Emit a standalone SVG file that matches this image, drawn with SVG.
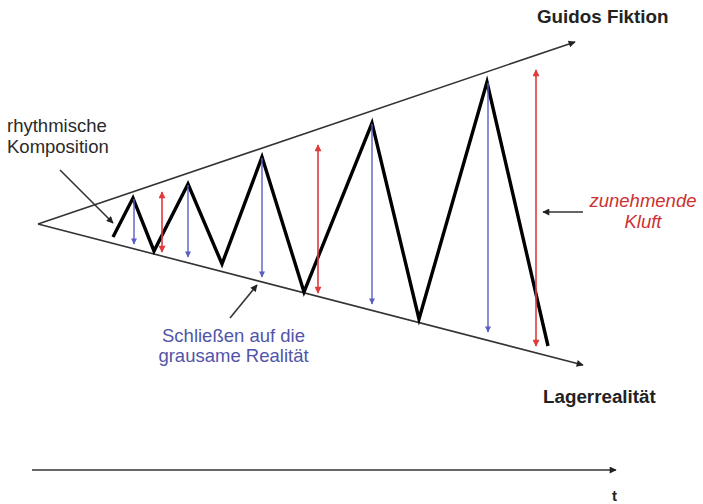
<svg xmlns="http://www.w3.org/2000/svg" width="703" height="504" viewBox="0 0 703 504">
<defs>
<style>
.line{stroke:#333;stroke-width:1.6;fill:none}
.zig{stroke:#000;stroke-width:3.4;fill:none;stroke-linejoin:miter}
.blue{stroke:#5a5fc0;stroke-width:1.4;fill:none}
.red{stroke:#e03a3a;stroke-width:1.6;fill:none}
.lbl{font-family:"Liberation Sans",Arial,sans-serif;font-size:18.5px;fill:#2a2a2a}
.bold{font-family:"Liberation Sans",Arial,sans-serif;font-size:18.8px;font-weight:bold;fill:#222}
</style>
<marker id="ak" viewBox="0 0 10 10" refX="9" refY="5" markerWidth="9" markerHeight="7" markerUnits="userSpaceOnUse" orient="auto"><path d="M0,0L10,5L0,10z" fill="#222"/></marker>
<marker id="ab" viewBox="0 0 10 10" refX="9" refY="5" markerWidth="7" markerHeight="6" markerUnits="userSpaceOnUse" orient="auto"><path d="M0,0L10,5L0,10z" fill="#5a5fc0"/></marker>
<marker id="ar" viewBox="0 0 10 10" refX="9" refY="5" markerWidth="8" markerHeight="7" markerUnits="userSpaceOnUse" orient="auto-start-reverse"><path d="M0,0L10,5L0,10z" fill="#e03a3a"/></marker>
</defs>
<rect width="703" height="504" fill="#fff"/>
<g id="connectors">
<line class="line" x1="38" y1="224" x2="575" y2="42" marker-end="url(#ak)"/>
<line class="line" x1="38" y1="224" x2="583" y2="365" marker-end="url(#ak)"/>
<line class="line" x1="32" y1="470" x2="616" y2="470" marker-end="url(#ak)"/>
<polyline class="zig" points="113,237 133,198 154,251 188,184 222,264 262,157 304,292 372,123 419,319 487,82 548,346"/>
<line class="blue" x1="134" y1="199" x2="134" y2="244" marker-end="url(#ab)"/>
<line class="blue" x1="188" y1="185" x2="188" y2="257" marker-end="url(#ab)"/>
<line class="blue" x1="262" y1="158" x2="262" y2="277" marker-end="url(#ab)"/>
<line class="blue" x1="372" y1="124" x2="372" y2="304" marker-end="url(#ab)"/>
<line class="blue" x1="488" y1="83" x2="488" y2="332" marker-end="url(#ab)"/>
<line class="red" x1="162" y1="192" x2="162" y2="252" marker-start="url(#ar)" marker-end="url(#ar)"/>
<line class="red" x1="318" y1="145" x2="318" y2="293" marker-start="url(#ar)" marker-end="url(#ar)"/>
<line class="red" x1="536" y1="70" x2="536" y2="346" marker-start="url(#ar)" marker-end="url(#ar)"/>
<line class="line" x1="60" y1="170" x2="113" y2="223" marker-end="url(#ak)"/>
<line class="line" x1="230" y1="318" x2="257" y2="285" marker-end="url(#ak)"/>
<line class="line" x1="583" y1="212" x2="543" y2="212" marker-end="url(#ak)"/>
</g>
<g id="guidos-fiktion"><text class="bold" x="537" y="23">Guidos Fiktion</text></g>
<g id="lagerrealitaet"><text class="bold" x="543" y="403">Lagerrealität</text></g>
<g id="rhythmische-komposition"><text class="lbl" x="7" y="132">rhythmische</text><text class="lbl" x="7" y="153">Komposition</text></g>
<g id="schliessen"><text class="lbl" x="233.5" y="342" text-anchor="middle" style="fill:#5055a8">Schließen auf die</text><text class="lbl" x="233.5" y="362" text-anchor="middle" style="fill:#5055a8">grausame Realität</text></g>
<g id="kluft"><text class="lbl" x="643" y="207" text-anchor="middle" font-style="italic" style="fill:#cc3030">zunehmende</text><text class="lbl" x="643" y="228" text-anchor="middle" font-style="italic" style="fill:#cc3030">Kluft</text></g>
<g id="t-label"><text class="bold" x="612" y="501" style="font-size:15px">t</text></g>
</svg>
